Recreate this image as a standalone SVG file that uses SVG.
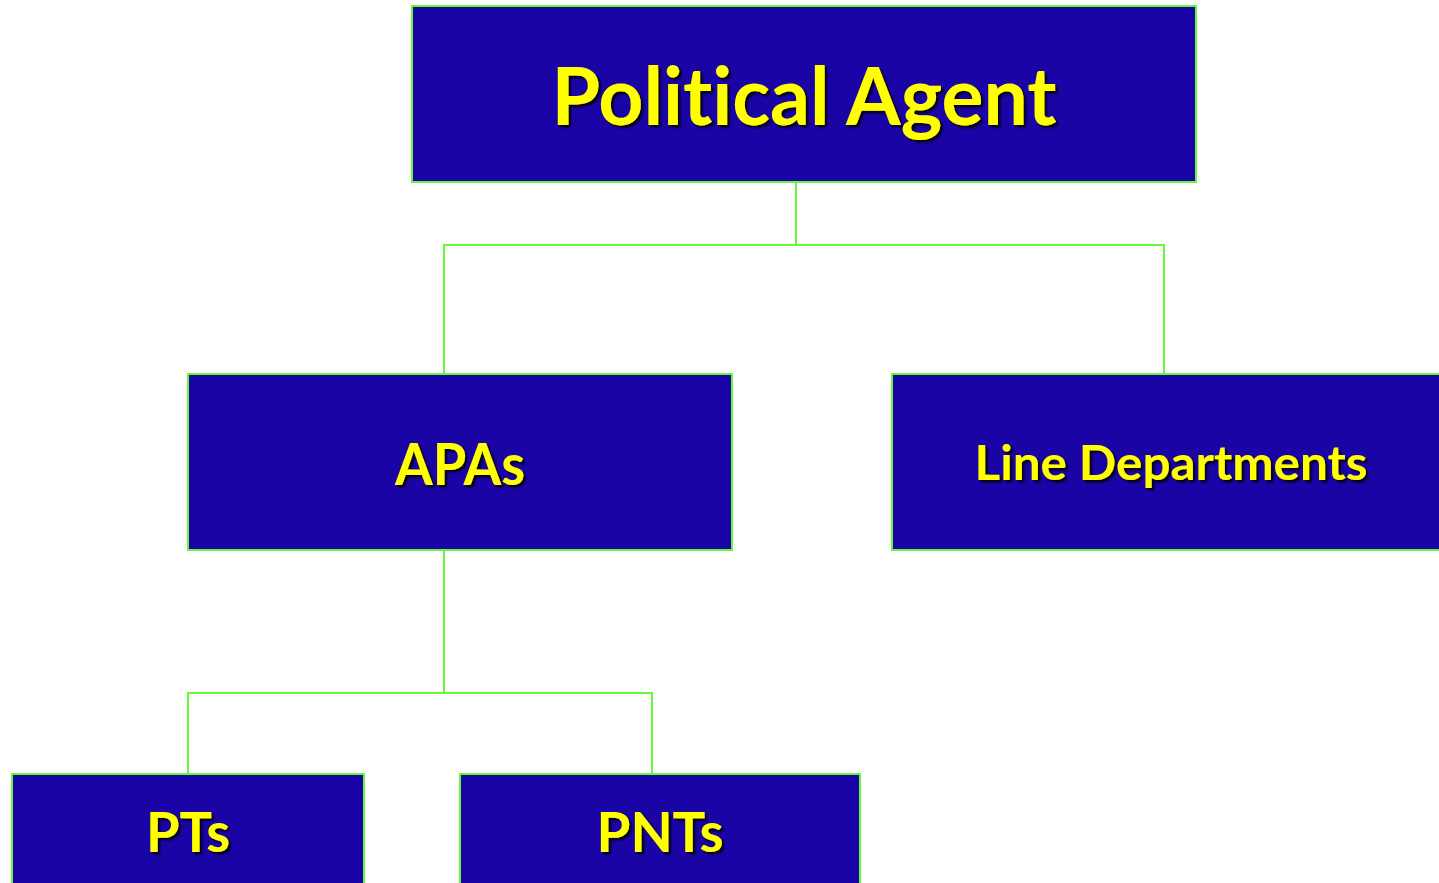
<svg xmlns="http://www.w3.org/2000/svg" width="1439" height="883" viewBox="0 0 1439 883">
  <defs>
    <filter id="shadow" x="-10%" y="-20%" width="130%" height="150%">
      <feDropShadow dx="2.5" dy="2.5" stdDeviation="1.2" flood-color="#000000" flood-opacity="0.85"/>
    </filter>
  </defs>
  <style>
    .box { fill: #1a04a6; stroke: #66f83a; stroke-width: 2; }
    .lbl { fill: #ffff00; font-family: Lato, "Open Sans", sans-serif; font-weight: bold; text-anchor: middle; font-variant-ligatures: none; font-feature-settings: "liga" 0, "dlig" 0; filter: url(#shadow); }
    .conn { fill: none; stroke: #66f83a; stroke-width: 2; }
  </style>
  <rect width="1439" height="883" fill="#ffffff"/>

  <g id="connectors">
    <polyline class="conn" points="796,182 796,245"/>
    <polyline class="conn" points="444,374 444,245 1164,245 1164,374"/>
    <polyline class="conn" points="444,550 444,693"/>
    <polyline class="conn" points="188,774 188,693 652,693 652,774"/>
  </g>

  <g id="political-agent">
    <rect class="box" x="412" y="6" width="784" height="176"/>
    <text class="lbl" x="804" y="125" font-size="81" textLength="505" lengthAdjust="spacingAndGlyphs">Political Agent</text>
  </g>

  <g id="apas">
    <rect class="box" x="188" y="374" width="544" height="176"/>
    <text class="lbl" x="460" y="485" font-size="58" textLength="130" lengthAdjust="spacingAndGlyphs">APAs</text>
  </g>

  <g id="line-departments">
    <rect class="box" x="892" y="374" width="560" height="176"/>
    <text class="lbl" x="1171" y="480" font-size="48" textLength="393" lengthAdjust="spacingAndGlyphs">Line Departments</text>
  </g>

  <g id="pts">
    <rect class="box" x="12" y="774" width="352" height="120"/>
    <text class="lbl" x="188" y="852" font-size="56" textLength="84" lengthAdjust="spacingAndGlyphs">PTs</text>
  </g>

  <g id="pnts">
    <rect class="box" x="460" y="774" width="400" height="120"/>
    <text class="lbl" x="660" y="852" font-size="56" textLength="127" lengthAdjust="spacingAndGlyphs">PNTs</text>
  </g>
</svg>
